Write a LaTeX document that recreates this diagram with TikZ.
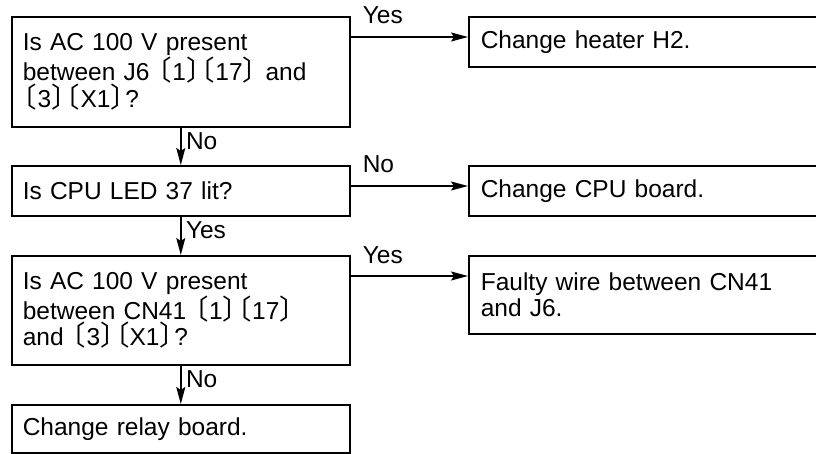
\documentclass[tikz,border=0pt]{standalone}
\usepackage{fontspec}
\setmainfont{Liberation Sans}
\newfontfamily\brkfont[RawFeature=+palt,Scale=1.12]{Noto Sans CJK JP}
\newcommand{\lbk}{{\brkfont 〔}\kern1pt}
\newcommand{\rbk}{\kern1pt{\brkfont 〕}}
\usetikzlibrary{arrows.meta}
\tikzset{
  box/.style={draw, line width=1.6pt, anchor=north west, align=left,
    inner xsep=11pt, inner ysep=0pt, font=\fontsize{24.5}{26.5}\selectfont},
  rbox/.style={box, inner xsep=12pt, text width=338pt},
  lbox/.style={box, text width=316pt},
  arr/.style={line width=1.6pt, -{Stealth[length=17pt,width=9pt,inset=3pt]}},
  lab/.style={font=\fontsize{24.5}{26.5}\selectfont, inner sep=0pt},
}
\begin{document}
\begin{tikzpicture}[x=1pt,y=-1pt]
\useasboundingbox (0,0) rectangle (816,454);
% left column
\node[lbox, minimum height=110pt] (q1) at (11,16)
  {Is AC 100 V present\\between J6 \lbk1\rbk\lbk17\rbk{} and\\\lbk3\rbk\lbk X1\rbk?};
\node[lbox, minimum height=50pt] (q2) at (11,165) {Is CPU LED 37 lit?};
\node[lbox, minimum height=109pt] (q3) at (11,255)
  {Is AC 100 V present\\between CN41 \lbk1\rbk\lbk17\rbk\\and \lbk3\rbk\lbk X1\rbk?};
\node[lbox, minimum height=48pt] (q4) at (11,404) {Change relay board.};
% right column
\node[rbox, minimum height=50pt] (r1) at (468,16) {Change heater H2.};
\node[rbox, minimum height=50pt] (r2) at (468,165) {Change CPU board.};
\node[rbox, minimum height=78pt] (r3) at (468,255) {Faulty wire between CN41\\and J6.};
% vertical arrows
\draw[arr] (q1.south) -- (q2.north);
\draw[arr] (q2.south) -- (q3.north);
\draw[arr] (q3.south) -- (q4.north);
\node[lab, anchor=base west] (n1) at ([xshift=5pt,yshift=-22pt]q1.south) {No};
\node[lab, anchor=base west] (y2) at ([xshift=5pt,yshift=-22pt]q2.south) {Yes};
\node[lab, anchor=base west] (n3) at ([xshift=5pt,yshift=-22pt]q3.south) {No};
% horizontal arrows
\coordinate (a1) at ([yshift=-21pt]q1.north east);
\coordinate (a2) at ([yshift=-21pt]q2.north east);
\coordinate (a3) at ([yshift=-21pt]q3.north east);
\draw[arr] (a1) -- (a1 -| r1.west);
\draw[arr] (a2) -- (a2 -| r2.west);
\draw[arr] (a3) -- (a3 -| r3.west);
\node[lab, anchor=base west] (y1) at ([xshift=12pt,yshift=13pt]a1) {Yes};
\node[lab, anchor=base west] (n2) at ([xshift=12pt,yshift=13pt]a2) {No};
\node[lab, anchor=base west] (y3) at ([xshift=12pt,yshift=13pt]a3) {Yes};
\end{tikzpicture}
\end{document}
